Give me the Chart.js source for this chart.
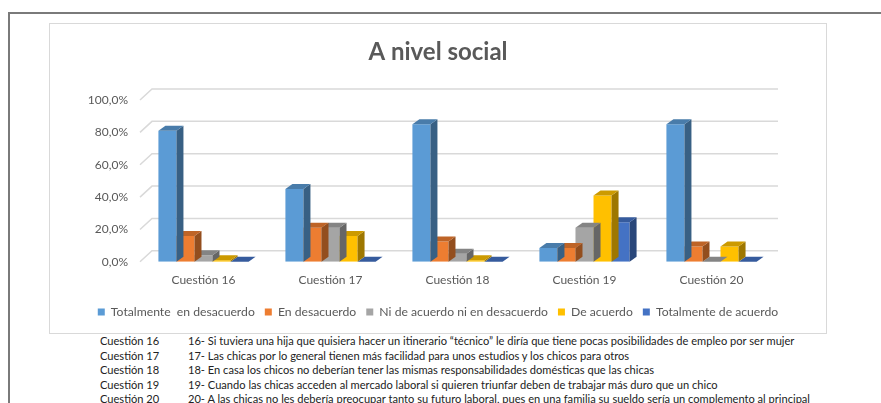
<!DOCTYPE html>
<html>
<head>
<meta charset="utf-8">
<script src="https://cdn.jsdelivr.net/npm/chart.js@4.4.1/dist/chart.umd.min.js"></script>
<style>
    body { margin: 0; background: #fff; width: 881px; height: 403px; overflow: hidden; position: relative; font-family: Lato, "Open Sans", sans-serif; }
    .frame { position: absolute; left: 8px; top: 12px; right: -10px; height: 400px; border-top: 2px solid #7a7a7a; border-left: 2px solid #7a7a7a; }
    .chart-box { position: absolute; left: 49px; top: 23px; width: 776px; height: 309px; border: 1px solid #d9d9d9; background: #fff; }
    .notes { position: absolute; left: 100px; top: 334px; font-size: 11.1px; color: #222; line-height: 14.6px; }
    .notes div { white-space: nowrap; }
    .notes span.q { display: inline-block; width: 88px; }
</style>
</head>
<body>
<div class="frame"></div>
<div class="chart-box"><canvas id="chart" width="776" height="309"></canvas></div>
<div class="notes" id="notes"></div>
<script>
const categories = ['Cuestión 16', 'Cuestión 17', 'Cuestión 18', 'Cuestión 19', 'Cuestión 20'];

// valores en %
const totDesacuerdo = [81, 45, 85, 8.5, 85];
const enDesacuerdo = [16, 21, 12.5, 8.5, 9.5];
const niNi = [4, 21, 5, 21, 0];
const deAcuerdo = [1, 16, 1, 41, 9.5];
const totAcuerdo = [0, 0, 0, 24.5, 0];

const yTicks = [0, 20, 40, 60, 80, 100];

const preguntas = [
    '16- Si tuviera una hija que quisiera hacer un itinerario “técnico” le diría que tiene pocas posibilidades de empleo por ser mujer',
    '17- Las chicas por lo general  tienen más facilidad para unos estudios y los chicos para otros',
    '18- En casa los chicos no deberían tener las mismas responsabilidades domésticas que las chicas',
    '19- Cuando las chicas acceden al mercado laboral si quieren triunfar deben de trabajar más duro que un chico',
    '20- A las chicas no les debería preocupar tanto su futuro laboral, pues en una familia su sueldo sería un complemento al principal'
];

const font = 'Lato, "Open Sans", sans-serif';
const depthX = 7, depthY = 5;      // profundidad de cada barra
const wallX = 12, wallY = 11;      // profundidad de la pared del fondo

function shade(hex, f) {
    const n = parseInt(hex.slice(1), 16);
    const r = Math.round(((n >> 16) & 255) * f);
    const g = Math.round(((n >> 8) & 255) * f);
    const b = Math.round((n & 255) * f);
    return 'rgb(' + r + ',' + g + ',' + b + ')';
}

// rejilla en perspectiva (pared del fondo)
const wallGrid = {
    id: 'wallGrid',
    beforeDatasetsDraw(chart) {
        const c = chart.ctx, y = chart.scales.y, a = chart.chartArea;
        c.save();
        c.strokeStyle = '#d9d9d9';
        c.lineWidth = 1.5;
        yTicks.forEach(v => {
            const py = y.getPixelForValue(v);
            c.beginPath();
            c.moveTo(a.left, py);
            c.lineTo(a.left + wallX, py - wallY);
            c.lineTo(a.right + 3, py - wallY);
            c.stroke();
        });
        c.restore();
    }
};

// caras lateral y superior de cada barra
const bars3d = {
    id: 'bars3d',
    afterDatasetDraw(chart, args) {
        const c = chart.ctx;
        const ds = chart.data.datasets[args.index];
        c.save();
        args.meta.data.forEach(bar => {
            const p = bar.getProps(['x', 'y', 'base', 'width'], true);
            const l = p.x - p.width / 2, r = p.x + p.width / 2;
            // lateral
            c.fillStyle = shade(ds.backgroundColor, 0.62);
            c.beginPath();
            c.moveTo(r, p.y);
            c.lineTo(r + depthX, p.y - depthY);
            c.lineTo(r + depthX, p.base - depthY);
            c.lineTo(r, p.base);
            c.closePath();
            c.fill();
            // superior
            c.fillStyle = shade(ds.backgroundColor, 0.8);
            c.beginPath();
            c.moveTo(l, p.y);
            c.lineTo(l + depthX, p.y - depthY);
            c.lineTo(r + depthX, p.y - depthY);
            c.lineTo(r, p.y);
            c.closePath();
            c.fill();
        });
        c.restore();
    }
};

const datasets = [
    { label: 'Totalmente  en desacuerdo', data: totDesacuerdo, backgroundColor: '#5b9bd5' },
    { label: 'En desacuerdo', data: enDesacuerdo, backgroundColor: '#ed7d31' },
    { label: 'Ni de acuerdo ni en desacuerdo', data: niNi, backgroundColor: '#a5a5a5' },
    { label: 'De acuerdo', data: deAcuerdo, backgroundColor: '#ffc000' },
    { label: 'Totalmente de acuerdo', data: totAcuerdo, backgroundColor: '#4472c4' }
];

new Chart(document.getElementById('chart'), {
    type: 'bar',
    data: { labels: categories, datasets: datasets },
    plugins: [wallGrid, bars3d],
    options: {
        responsive: false,
        animation: false,
        layout: { padding: { left: 0, right: 0, bottom: 5 } },
        datasets: { bar: { categoryPercentage: 0.71, barPercentage: 1 } },
        plugins: {
            title: {
                display: true,
                text: 'A nivel social',
                color: '#595959',
                font: { family: font, size: 24, weight: 'bold' },
                padding: { top: 14, bottom: 33.2 }
            },
            legend: {
                position: 'bottom',
                labels: {
                    boxWidth: 7,
                    boxHeight: 7,
                    padding: 10,
                    color: '#595959',
                    font: { family: font, size: 12.2 }
                }
            },
            tooltip: { enabled: false }
        },
        scales: {
            x: {
                grid: { display: false, drawTicks: false },
                border: { display: false },
                ticks: { color: '#595959', padding: 11, font: { family: font, size: 12 } },
                afterFit: s => { s.height = 34; }
            },
            y: {
                min: 0,
                max: 100,
                grid: { display: false, drawTicks: false },
                border: { display: false },
                ticks: {
                    stepSize: 20,
                    padding: 12,
                    color: '#595959',
                    font: { family: font, size: 12 },
                    callback: v => v.toFixed(1).replace('.', ',') + '%'
                },
                afterFit: s => { s.width = 90; }
            },
            // margen derecho del área del gráfico
            yRight: {
                position: 'right',
                min: 0,
                max: 100,
                grid: { display: false, drawTicks: false },
                border: { display: false },
                ticks: { display: false },
                afterFit: s => { s.width = 51; }
            }
        }
    }
});

const notes = document.getElementById('notes');
categories.forEach((cat, i) => {
    const row = document.createElement('div');
    const q = document.createElement('span');
    q.className = 'q';
    q.textContent = cat;
    row.appendChild(q);
    row.appendChild(document.createTextNode(preguntas[i]));
    notes.appendChild(row);
});
</script>
</body>
</html>
